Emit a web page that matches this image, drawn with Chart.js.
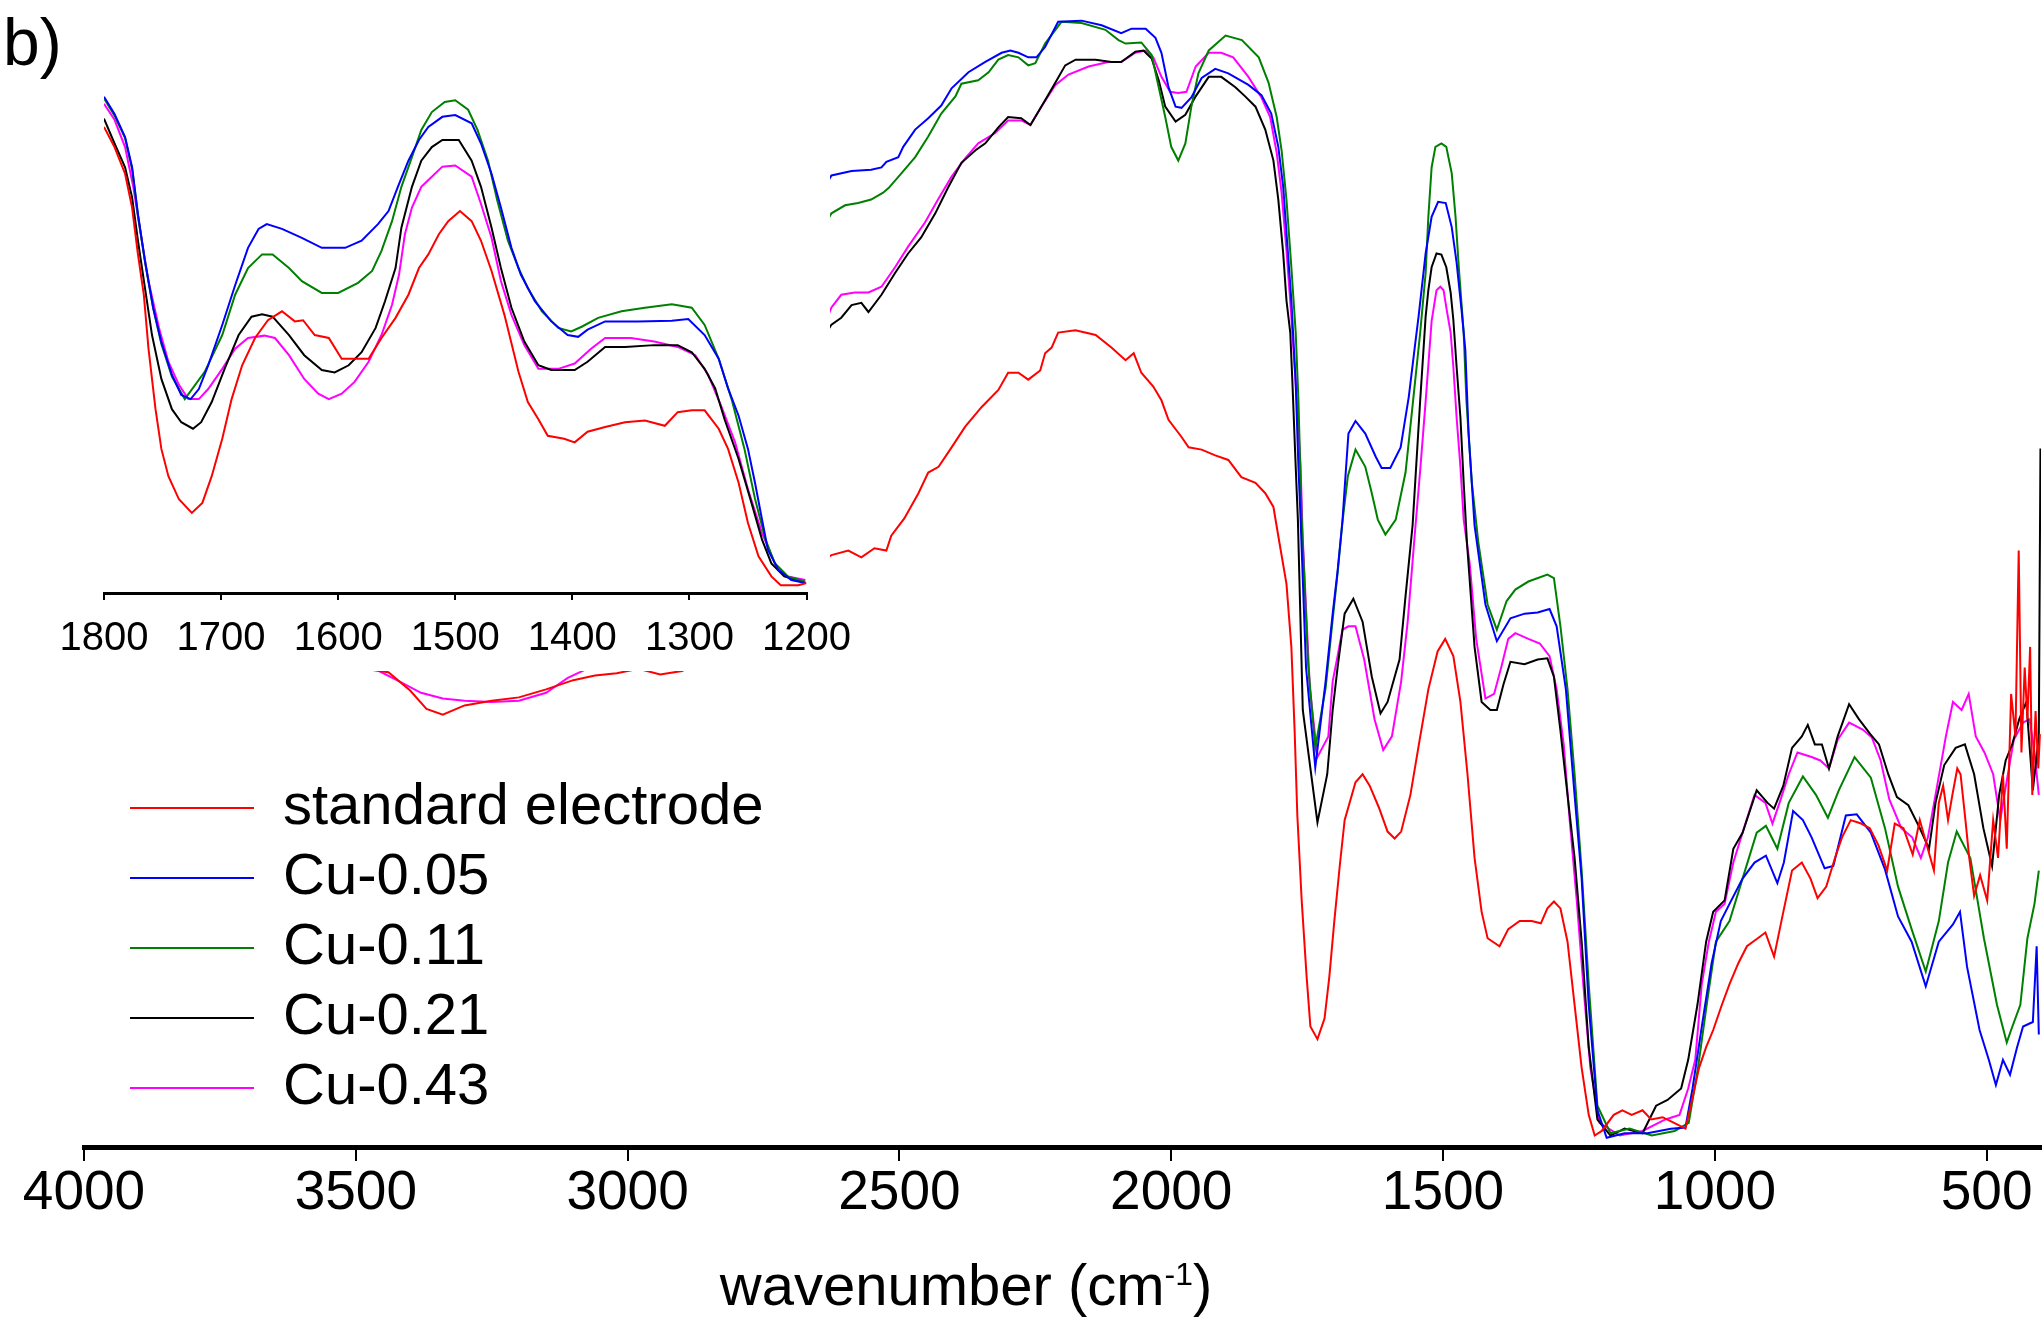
<!DOCTYPE html>
<html lang="en">
<head>
  <meta charset="UTF-8" />
  <title>FTIR spectra – Cu electrodes</title>
  <script src="https://cdn.jsdelivr.net/npm/chart.js"></script>
  <style>
    html, body { margin: 0; padding: 0; background: #fff; }
    #wrap { position: relative; width: 2044px; height: 1319px; overflow: hidden; }
    #mainChart, #insetChart { position: absolute; left: 0; top: 0; }
    #panelLabel {
      position: absolute; left: 3px; top: 9px;
      font: 66px/1 "Liberation Sans", Arial, sans-serif; color: #000;
    }
    #axisTitle {
      position: absolute; left: 966px; top: 1256px;
      transform: translateX(-50%);
      white-space: nowrap;
      font: 58px/1 "Liberation Sans", Arial, sans-serif; color: #000;
    }
    #axisTitle sup { font-size: 0.55em; vertical-align: 0.62em; line-height: 0; }
  </style>
</head>
<body>

  <div id="wrap">
    <canvas id="mainChart" width="2044" height="1319"></canvas>
    <canvas id="insetChart" width="870" height="700"></canvas>
    <div id="panelLabel">b)</div>
    <div id="axisTitle">wavenumber (cm<sup>-1</sup>)</div>
  </div>

  <script>
    // series names, in legend order
    const seriesNames = ['standard electrode', 'Cu-0.05', 'Cu-0.11', 'Cu-0.21', 'Cu-0.43'];

    // axis tick values (cm-1)
    const mainTicks = [4000, 3500, 3000, 2500, 2000, 1500, 1000, 500];
    const insetTicks = [1800, 1700, 1600, 1500, 1400, 1300, 1200];

    // full spectra: [wavenumber, transmittance (a.u.)]
    const stdMain = [
      [4000,44.0],[3850,43.5],[3700,43.0],[3560,42.2],[3440,41.4],[3400,39.8],[3370,38.2],[3340,37.7],[3300,38.5],[3250,38.9],
      [3200,39.2],[3150,39.9],[3100,40.7],[3060,41.1],[3020,41.3],[2980,41.7],[2940,41.2],[2900,41.5],[2860,42.4],[2800,44.5],
      [2740,47.5],[2680,50.0],
      [2625,51.6],[2594,52.0],[2570,51.4],[2546,52.2],[2524,52.0],[2515,53.3],[2491,54.8],[2465,57.0],[2447,58.8],[2428,59.3],
      [2404,61.0],[2379,62.8],[2349,64.5],[2318,66.0],[2300,67.5],[2281,67.5],[2263,66.9],[2241,67.7],[2232,69.2],[2220,69.7],
      [2208,71.0],[2176,71.2],[2139,70.8],[2110,69.7],[2084,68.6],[2069,69.2],[2055,67.5],[2033,66.3],[2018,65.1],[2005,63.4],
      [1981,61.9],[1968,61.0],[1944,60.8],[1919,60.3],[1895,59.9],[1871,58.4],[1845,57.9],[1827,57.0],[1812,55.8],[1801,52.7],
      [1788,49.1],[1779,43.6],[1773,36.3],[1768,28.9],[1760,21.5],[1751,14.9],[1744,10.5],[1731,9.4],[1718,11.2],[1709,14.9],
      [1700,19.7],[1690,24.5],[1681,28.5],[1661,31.8],[1648,32.5],[1635,31.5],[1618,29.6],[1602,27.5],[1589,26.9],[1577,27.5],
      [1560,30.7],[1543,35.5],[1527,39.9],[1510,43.2],[1496,44.3],[1481,42.8],[1468,38.8],[1455,32.5],[1442,25.2],[1429,20.5],
      [1418,18.2],[1396,17.5],[1380,19.0],[1359,19.7],[1337,19.7],[1320,19.5],[1308,20.8],[1296,21.4],[1284,20.8],[1271,17.9],
      [1258,12.4],[1245,6.9],[1232,2.8],[1221,1.0],[1208,1.4],[1186,2.8],[1170,3.2],[1153,2.8],[1133,3.2],[1117,2.4],
      [1096,2.6],[1075,2.1],[1054,1.6],[1041,4.3],[1029,6.9],[1016,8.7],[1003,10.2],[987,12.4],[973,14.2],[957,16.0],
      [941,17.5],[921,18.2],[907,18.7],[891,16.6],[874,20.5],[858,24.1],[840,24.8],[824,23.4],[811,21.7],[795,22.7],
      [779,25.2],[766,27.0],[750,28.5],[731,28.2],[715,27.8],[699,26.3],[683,24.1],[669,28.2],[653,27.8],[636,25.5],
      [623,28.5],[610,26.3],[597,24.1],[588,30.0],[580,31.5],[571,28.5],[563,30.7],[554,33.0],[548,32.5],[539,28.5],
      [532,25.2],[523,21.9],[512,23.7],[499,21.5],[488,28.5],[479,25.2],[470,32.5],[463,26.0],[455,39.5],[447,35.8],
      [441,52.0],[436,34.4],[430,41.8],[425,37.3],[420,43.6],[416,30.7],[410,38.0],[405,33.0],[402,36.0]
    ];

    const cu005Main = [
      [4000,52.0],[3800,50.5],[3600,49.5],[3450,48.5],[3300,49.0],[3150,51.0],[3000,55.0],[2900,60.0],[2800,68.0],[2720,76.0],
      [2660,82.0],
      [2625,84.7],[2588,85.1],[2552,85.2],[2533,85.4],[2524,85.9],[2502,86.3],[2493,87.2],[2471,88.7],[2447,89.7],[2423,90.8],
      [2404,92.3],[2373,93.7],[2342,94.6],[2312,95.4],[2296,95.6],[2281,95.4],[2263,95.0],[2248,95.0],[2232,95.9],[2208,98.1],
      [2165,98.2],[2128,97.8],[2092,97.1],[2073,97.5],[2047,97.5],[2029,96.7],[2018,95.4],[2005,92.4],[1992,90.7],[1981,90.6],
      [1963,91.5],[1944,93.2],[1919,94.0],[1895,93.6],[1858,92.6],[1834,91.7],[1816,90.1],[1803,87.2],[1794,83.7],[1788,79.7],
      [1779,73.8],[1771,66.6],[1766,59.3],[1762,54.7],[1752,41.8],[1735,33.1],[1716,40.6],[1703,46.5],[1694,50.2],[1685,54.6],
      [1679,58.8],[1674,62.2],[1661,63.3],[1643,62.2],[1624,60.2],[1613,59.2],[1597,59.2],[1578,61.0],[1563,65.4],[1551,70.1],
      [1545,72.4],[1532,77.9],[1521,81.1],[1509,82.4],[1495,82.3],[1484,80.2],[1475,77.1],[1466,73.0],[1459,69.5],[1453,62.2],
      [1442,54.2],[1422,47.3],[1401,44.1],[1376,46.1],[1350,46.5],[1326,46.6],[1304,46.9],[1291,45.4],[1274,39.9],[1258,30.7],
      [1245,23.4],[1232,12.4],[1216,3.2],[1199,0.8],[1166,1.2],[1124,1.2],[1081,1.6],[1054,1.7],[1041,5.1],[1024,10.5],
      [1006,16.0],[989,19.7],[973,21.2],[949,23.4],[927,24.8],[906,25.4],[885,23.0],[873,24.8],[856,29.3],[838,28.5],
      [822,27.0],[798,24.3],[782,24.5],[759,28.9],[739,29.0],[713,27.4],[687,24.2],[663,20.1],[638,17.9],[612,14.0],
      [588,17.9],[562,19.4],[549,20.5],[536,15.7],[513,10.2],[496,7.6],[483,5.4],[470,7.6],[457,6.3],[444,8.7],
      [433,10.5],[415,10.9],[408,17.5],[404,9.8]
    ];

    const cu011Main = [
      [4000,50.0],[3800,48.0],[3600,47.0],[3450,46.0],[3300,46.5],[3150,48.5],[3000,52.0],[2900,56.0],[2800,63.0],[2720,72.0],
      [2660,78.5],
      [2625,81.4],[2600,82.1],[2576,82.3],[2552,82.6],[2530,83.2],[2520,83.6],[2496,84.9],[2471,86.3],[2447,88.1],[2423,90.1],
      [2397,91.6],[2386,92.7],[2355,93.0],[2336,93.7],[2318,94.8],[2300,95.2],[2281,95.0],[2263,94.3],[2250,94.5],[2232,96.2],
      [2202,98.1],[2165,98.0],[2121,97.4],[2097,96.5],[2084,96.2],[2055,96.3],[2036,95.2],[2023,92.4],[2011,89.8],[2000,87.2],
      [1987,86.0],[1974,87.5],[1963,90.7],[1950,93.6],[1931,95.6],[1900,96.9],[1870,96.5],[1839,95.0],[1821,92.8],[1806,89.8],
      [1797,86.9],[1788,82.6],[1779,76.7],[1771,71.0],[1766,65.1],[1760,54.7],[1748,42.0],[1735,34.8],[1716,40.0],[1703,46.0],
      [1694,50.0],[1685,54.5],[1675,58.5],[1661,60.8],[1643,59.3],[1631,57.0],[1620,54.7],[1606,53.4],[1587,54.7],[1569,58.8],
      [1555,65.1],[1542,71.0],[1532,76.2],[1527,81.1],[1521,85.4],[1514,87.2],[1503,87.5],[1494,87.2],[1484,84.9],[1477,81.1],
      [1471,76.7],[1462,71.0],[1457,65.1],[1447,57.9],[1435,52.7],[1418,47.3],[1401,45.1],[1383,47.6],[1367,48.6],[1343,49.3],
      [1308,49.9],[1296,49.6],[1284,45.4],[1271,39.9],[1258,32.5],[1245,24.1],[1232,14.2],[1216,3.6],[1192,1.2],[1157,1.6],
      [1116,1.0],[1074,1.4],[1048,2.1],[1031,6.9],[1015,12.4],[998,17.9],[973,19.7],[949,23.4],[923,27.4],[906,28.0],
      [885,26.0],[864,30.0],[838,32.3],[814,30.7],[792,28.7],[772,31.1],[743,34.0],[713,32.2],[687,27.8],[663,22.7],
      [638,19.0],[612,15.3],[588,19.7],[571,24.8],[555,27.5],[530,25.2],[505,18.2],[481,12.4],[463,9.1],[455,10.2],
      [438,12.4],[425,18.2],[412,21.2],[404,24.1]
    ];

    const cu021Main = [
      [4000,47.0],[3800,45.5],[3600,44.5],[3440,43.5],[3300,43.0],[3150,44.0],[3000,46.0],[2900,49.0],[2800,55.0],[2720,62.0],
      [2660,69.0],
      [2625,71.7],[2607,72.3],[2588,73.4],[2570,73.6],[2557,72.8],[2533,74.3],[2508,76.2],[2484,77.9],[2460,79.3],[2434,81.4],
      [2410,83.7],[2386,85.8],[2360,86.9],[2342,87.5],[2318,88.9],[2300,89.8],[2276,89.7],[2259,89.1],[2239,90.7],[2213,92.8],
      [2195,94.3],[2176,94.8],[2139,94.8],[2110,94.6],[2092,94.6],[2066,95.5],[2051,95.6],[2036,94.9],[2023,93.0],[2011,90.7],
      [1992,89.4],[1974,90.0],[1955,91.6],[1931,93.3],[1908,93.3],[1882,92.4],[1864,91.6],[1845,90.7],[1827,88.7],[1812,86.0],
      [1803,82.6],[1794,77.9],[1788,73.8],[1781,71.0],[1777,66.6],[1771,59.3],[1767,54.7],[1758,38.1],[1731,28.3],[1713,32.5],
      [1703,38.1],[1694,41.8],[1681,46.5],[1665,47.8],[1648,45.8],[1631,41.0],[1615,37.8],[1602,38.8],[1580,42.5],[1569,48.0],
      [1556,54.2],[1542,65.1],[1532,72.4],[1527,74.7],[1521,76.7],[1512,77.9],[1503,77.8],[1494,76.7],[1486,74.5],[1481,72.1],
      [1475,68.0],[1468,63.6],[1462,57.9],[1456,52.7],[1442,43.6],[1429,38.8],[1413,38.1],[1401,38.1],[1389,40.3],[1376,42.3],
      [1350,42.1],[1326,42.5],[1308,42.6],[1296,41.0],[1284,36.3],[1271,30.7],[1258,25.2],[1245,17.9],[1232,8.7],[1216,2.4],
      [1192,1.0],[1166,1.6],[1133,1.2],[1108,3.6],[1087,4.1],[1062,5.1],[1049,7.6],[1032,12.4],[1016,17.9],[1003,20.5],
      [982,21.5],[966,26.0],[949,27.4],[923,31.1],[903,30.0],[891,29.5],[874,31.5],[858,34.8],[840,35.8],[829,36.8],
      [816,35.1],[803,35.1],[790,33.0],[774,35.8],[753,38.6],[735,37.3],[714,36.0],[698,35.1],[681,32.5],[665,30.5],
      [644,29.8],[623,27.8],[606,26.0],[594,30.0],[578,33.3],[557,34.8],[540,35.1],[523,32.5],[506,27.8],[490,24.5],
      [477,30.7],[465,33.7],[453,35.1],[440,37.3],[427,38.8],[415,31.1],[404,35.8],[401,60.9]
    ];

    const cu043Main = [
      [4000,45.0],[3800,43.5],[3600,42.5],[3470,41.8],[3420,40.6],[3380,39.6],[3340,39.1],[3300,38.9],[3250,38.8],[3200,38.9],
      [3150,39.6],[3110,40.9],[3070,41.8],[3000,43.5],[2900,47.0],[2800,53.0],[2720,61.0],[2660,69.0],
      [2625,73.2],[2607,74.3],[2582,74.5],[2557,74.5],[2533,75.0],[2508,76.7],[2484,78.5],[2453,80.6],[2429,82.6],[2404,84.6],
      [2379,86.2],[2355,87.5],[2324,88.4],[2300,89.5],[2276,89.5],[2259,89.1],[2239,90.7],[2213,92.6],[2189,93.5],[2152,94.2],
      [2116,94.6],[2092,94.6],[2066,95.4],[2047,95.6],[2033,95.0],[2018,93.3],[2002,92.0],[1987,91.9],[1972,92.0],[1955,94.2],
      [1931,95.4],[1908,95.4],[1886,95.0],[1858,93.3],[1834,91.5],[1818,89.8],[1806,86.7],[1797,83.2],[1788,78.2],[1779,72.4],
      [1769,65.1],[1762,59.3],[1758,53.0],[1745,40.0],[1731,34.0],[1711,35.8],[1703,40.6],[1694,42.8],[1685,45.1],[1674,45.4],
      [1661,45.4],[1645,42.5],[1626,37.3],[1610,34.6],[1594,35.8],[1577,40.6],[1565,45.8],[1552,53.4],[1542,59.0],[1532,65.0],
      [1521,72.0],[1512,74.7],[1505,75.0],[1499,74.7],[1494,73.2],[1486,71.0],[1481,68.0],[1475,63.6],[1468,59.3],[1462,54.7],
      [1451,50.9],[1439,44.3],[1422,39.1],[1406,39.5],[1393,41.8],[1380,44.3],[1367,44.8],[1343,44.3],[1322,43.9],[1304,42.8],
      [1291,39.9],[1278,35.1],[1267,28.5],[1254,21.5],[1242,14.2],[1229,6.9],[1212,2.1],[1175,1.0],[1133,1.4],[1091,2.4],
      [1065,2.8],[1049,5.1],[1036,7.6],[1024,14.2],[1011,17.9],[998,20.5],[982,21.2],[966,24.8],[949,27.4],[927,30.7],
      [907,30.0],[894,28.2],[881,30.0],[864,32.5],[848,34.4],[822,34.0],[806,33.7],[790,33.0],[774,35.5],[753,37.0],
      [728,36.4],[711,35.7],[695,33.7],[679,30.3],[657,27.8],[637,27.0],[621,25.2],[608,27.0],[591,31.5],[575,35.8],
      [562,38.8],[546,38.1],[533,39.5],[520,35.8],[504,34.4],[488,32.5],[475,28.5],[462,32.2],[450,35.5],[433,37.0],
      [421,37.3],[412,34.4],[404,30.7]
    ];

    // 1800-1200 cm-1 detail (inset), its own scaling
    const stdInset = [
      [1800,78.6],[1791,75.2],[1782,70.7],[1776,65.0],[1771,57.1],[1766,50.3],[1762,41.2],[1756,31.0],[1751,24.3],[1745,19.7],
      [1736,15.8],[1725,13.5],[1716,15.2],[1708,19.7],[1699,26.0],[1691,32.7],[1682,38.4],[1671,43.0],[1660,46.0],[1648,47.5],
      [1637,45.8],[1630,46.0],[1620,43.5],[1608,43.0],[1597,39.5],[1585,39.5],[1574,39.5],[1563,43.0],[1551,46.4],[1540,50.3],
      [1531,54.8],[1523,57.1],[1514,60.5],[1506,62.7],[1496,64.4],[1486,62.7],[1478,59.4],[1469,54.3],[1458,46.9],[1446,37.3],
      [1438,32.2],[1429,29.3],[1421,26.5],[1407,26.0],[1398,25.4],[1387,27.2],[1372,28.0],[1355,28.8],[1338,29.1],[1321,28.2],
      [1310,30.5],[1298,30.8],[1287,30.8],[1275,27.7],[1267,24.3],[1258,18.6],[1250,11.8],[1241,6.2],[1230,2.8],[1222,1.3],
      [1207,1.3],[1200,1.7]
    ];

    const cu005Inset = [
      [1800,83.7],[1791,80.8],[1782,76.9],[1776,71.8],[1771,63.9],[1765,56.0],[1758,48.1],[1751,42.3],[1742,36.8],[1734,33.4],
      [1726,32.7],[1719,34.4],[1711,38.4],[1699,45.2],[1688,51.9],[1677,58.2],[1668,61.4],[1661,62.2],[1648,61.4],[1631,59.9],
      [1614,58.2],[1594,58.2],[1580,59.4],[1566,62.2],[1557,64.4],[1549,68.5],[1540,72.9],[1531,76.4],[1523,78.6],[1511,80.3],
      [1500,80.6],[1486,79.2],[1478,75.8],[1469,70.7],[1461,65.0],[1452,58.2],[1444,53.7],[1432,49.2],[1418,45.8],[1404,43.5],
      [1395,43.2],[1387,44.4],[1372,45.8],[1344,45.8],[1315,45.9],[1301,46.2],[1287,43.5],[1275,39.5],[1267,34.5],[1258,29.9],
      [1250,24.3],[1244,18.6],[1238,12.4],[1233,7.3],[1224,3.9],[1213,2.2],[1201,1.7]
    ];

    const cu011Inset = [
      [1800,83.4],[1791,80.5],[1782,76.7],[1776,71.5],[1771,63.7],[1765,55.8],[1758,48.0],[1751,42.0],[1742,36.5],[1731,32.7],
      [1714,37.3],[1699,43.5],[1688,50.3],[1677,54.8],[1665,57.1],[1656,57.1],[1642,54.8],[1631,52.6],[1614,50.6],[1600,50.6],
      [1583,52.3],[1571,54.3],[1563,57.7],[1554,62.7],[1546,68.5],[1537,73.5],[1529,78.1],[1520,81.1],[1509,82.8],[1500,83.1],
      [1489,81.5],[1481,78.1],[1472,72.9],[1464,66.1],[1455,59.4],[1446,54.8],[1438,51.4],[1426,47.5],[1412,44.7],[1401,44.1],
      [1392,44.9],[1378,46.4],[1358,47.5],[1338,48.1],[1315,48.7],[1298,48.1],[1287,45.2],[1275,39.5],[1264,32.7],[1253,24.3],
      [1244,15.9],[1235,9.0],[1227,5.0],[1216,2.8],[1201,1.9]
    ];

    const cu021Inset = [
      [1800,80.0],[1791,75.8],[1782,71.8],[1776,66.7],[1771,59.4],[1765,51.4],[1759,43.5],[1751,36.1],[1742,31.0],[1734,28.8],
      [1724,27.7],[1717,28.8],[1708,32.2],[1697,37.8],[1685,43.5],[1674,46.6],[1665,47.0],[1656,46.6],[1642,43.5],[1629,40.1],
      [1614,37.6],[1603,37.2],[1591,38.4],[1580,40.6],[1568,44.7],[1560,49.2],[1551,54.8],[1546,61.6],[1537,68.5],[1529,72.9],
      [1520,75.2],[1511,76.4],[1497,76.4],[1486,72.9],[1478,68.5],[1469,61.6],[1461,54.8],[1452,48.1],[1441,42.4],[1429,38.4],
      [1418,37.6],[1398,37.6],[1387,39.0],[1372,41.5],[1355,41.5],[1330,41.8],[1310,41.8],[1298,40.6],[1287,37.8],[1278,34.5],
      [1270,29.3],[1258,22.6],[1247,15.2],[1238,9.0],[1230,5.0],[1219,2.8],[1201,1.7]
    ];

    const cu043Inset = [
      [1800,82.5],[1791,79.8],[1782,75.2],[1775,68.5],[1769,61.0],[1762,52.6],[1753,44.7],[1745,39.0],[1736,35.1],[1728,32.7],
      [1719,32.7],[1711,34.4],[1699,37.8],[1688,41.2],[1677,43.0],[1663,43.4],[1654,43.0],[1642,40.1],[1629,36.1],[1617,33.6],
      [1608,32.7],[1597,33.6],[1586,35.6],[1574,39.0],[1563,43.5],[1554,48.6],[1548,53.7],[1543,60.5],[1537,65.0],[1529,68.5],
      [1520,70.2],[1511,71.9],[1500,72.1],[1486,70.2],[1478,65.6],[1469,59.9],[1461,52.6],[1452,46.9],[1441,41.8],[1429,37.8],
      [1412,37.8],[1398,38.7],[1384,41.2],[1372,43.0],[1350,43.0],[1330,42.4],[1310,41.5],[1295,40.1],[1284,36.8],[1273,31.6],
      [1261,25.4],[1250,17.5],[1238,10.1],[1227,5.0],[1216,2.8],[1201,2.2]
    ];

    const mainSeries = [stdMain, cu005Main, cu011Main, cu021Main, cu043Main];
    const insetSeries = [stdInset, cu005Inset, cu011Inset, cu021Inset, cu043Inset];

    const lineColors = ['#ff0000', '#0000ff', '#008000', '#000000', '#ff00ff'];
    const FONT = '"Liberation Sans", Arial, Helvetica, sans-serif';

    function toPoints(pairs) {
      return pairs.map(p => ({ x: p[0], y: p[1] }));
    }

    function buildDatasets(series) {
      return series.map((pairs, i) => ({
        label: seriesNames[i],
        data: toPoints(pairs),
        borderColor: lineColors[i],
        backgroundColor: lineColors[i],
        borderWidth: 2,
        pointRadius: 0,
        tension: 0,
        fill: false
      }));
    }

    // legend sits in the lower left corner, under the inset
    const legendPlacement = {
      id: 'legendPlacement',
      beforeDraw(chart) {
        const lg = chart.legend;
        if (!lg) return;
        lg.left = 118;
        lg.top = 767;
        lg.right = 900;
        lg.bottom = 1147;
      }
    };

    new Chart(document.getElementById('mainChart').getContext('2d'), {
      type: 'line',
      data: { datasets: buildDatasets(mainSeries) },
      options: {
        responsive: false,
        animation: false,
        layout: { padding: { left: 84, right: 3, top: 0, bottom: 0 } },
        scales: {
          x: {
            type: 'linear',
            reverse: true,
            min: 400,
            max: 4000,
            afterBuildTicks: axis => { axis.ticks = mainTicks.map(v => ({ value: v })); },
            afterFit: axis => { axis.height = 172; },
            border: { display: true, color: '#000', width: 5 },
            grid: { display: true, drawOnChartArea: false, drawTicks: true, tickLength: 14, color: '#000', lineWidth: 2 },
            ticks: {
              color: '#000',
              font: { family: FONT, size: 55, lineHeight: 1 },
              padding: 5,
              maxRotation: 0,
              autoSkip: false,
              callback: v => String(v)
            },
            title: { display: false }
          },
          y: { display: false, min: 0, max: 100 }
        },
        plugins: {
          legend: {
            position: 'chartArea',
            align: 'start',
            labels: {
              usePointStyle: true,
              pointStyle: 'line',
              pointStyleWidth: 124,
              color: '#000',
              font: { family: FONT, size: 58 },
              padding: 12
            }
          },
          tooltip: { enabled: false }
        }
      },
      plugins: [legendPlacement]
    });

    // white panel behind the inset so it hides the main traces under it
    const insetBackground = {
      id: 'insetBackground',
      beforeDraw(chart) {
        const ctx = chart.ctx;
        ctx.save();
        ctx.fillStyle = '#ffffff';
        ctx.fillRect(0, 0, 830, 671);
        ctx.restore();
      }
    };

    new Chart(document.getElementById('insetChart').getContext('2d'), {
      type: 'line',
      data: { datasets: buildDatasets(insetSeries) },
      options: {
        responsive: false,
        animation: false,
        layout: { padding: { left: 104, right: 59, top: 0, bottom: 0 } },
        scales: {
          x: {
            type: 'linear',
            reverse: true,
            min: 1200,
            max: 1800,
            afterBuildTicks: axis => { axis.ticks = insetTicks.map(v => ({ value: v })); },
            afterFit: axis => { axis.height = 107; },
            border: { display: true, color: '#000', width: 3 },
            grid: { display: true, drawOnChartArea: false, drawTicks: true, tickLength: 7, color: '#000', lineWidth: 2 },
            ticks: {
              color: '#000',
              font: { family: FONT, size: 40, lineHeight: 1 },
              padding: 19,
              maxRotation: 0,
              autoSkip: false,
              callback: v => String(v)
            }
          },
          y: { display: false, min: 0, max: 100 }
        },
        plugins: {
          legend: { display: false },
          tooltip: { enabled: false }
        }
      },
      plugins: [insetBackground]
    });
  </script>

</body>
</html>
